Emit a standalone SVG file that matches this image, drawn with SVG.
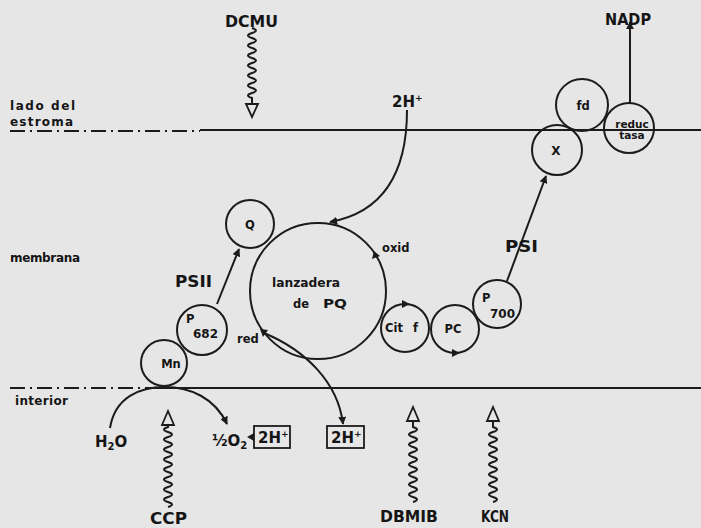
<svg xmlns="http://www.w3.org/2000/svg" width="701" height="528" viewBox="0 0 701 528">
<defs>
<style>
.ln{fill:none;stroke:#1b1b1b;stroke-width:2}
.dd{fill:none;stroke:#1b1b1b;stroke-width:2;stroke-dasharray:15 5 2 5}
.nd{fill:none;stroke:#1b1b1b;stroke-width:2}
.t{font-family:"DejaVu Sans","Liberation Sans",sans-serif;font-weight:bold;fill:#151515}
.s{font-size:12px}
.m{font-size:11.5px}
.b{font-size:15px}
.ah{fill:#1b1b1b}
.oh{fill:#e6e6e6;stroke:#1b1b1b;stroke-width:1.8}
</style>
<marker id="arr" viewBox="0 0 10 10" refX="9" refY="5" markerWidth="4" markerHeight="4" orient="auto" markerUnits="strokeWidth">
<path d="M0,0 L10,5 L0,10 Z" fill="#1b1b1b"/>
</marker>
</defs>
<rect x="0" y="0" width="701" height="528" fill="#e6e6e6"/>

<g id="membranes">
<path class="dd" d="M10,131 H200"/>
<path class="ln" d="M200,130 H701"/>
<path class="dd" d="M10,388 H148"/>
<path class="ln" d="M148,388 H701"/>
</g>

<g id="side-labels">
<text class="t s" x="10" y="110" textLength="65" lengthAdjust="spacing">lado del</text>
<text class="t s" x="10" y="126" textLength="63" lengthAdjust="spacing">estroma</text>
<text class="t s" x="10" y="262" textLength="70" lengthAdjust="spacing">membrana</text>
<text class="t s" x="15" y="405" textLength="53" lengthAdjust="spacing">interior</text>
</g>

<g id="connectors">
<path class="ln" d="M217,304 L239,249" marker-end="url(#arr)"/>
<path class="ln" d="M507,281 L546,176" marker-end="url(#arr)"/>
<path class="ln" d="M630,103 L630,22" marker-end="url(#arr)"/>
<path class="ln" d="M407,110 C407,170 385,212 330,222" marker-end="url(#arr)"/>
<path class="ln" d="M264,333 C305,350 338,382 343,424" marker-end="url(#arr)"/>
<path class="ln" d="M110,428 C115,397 140,387 165,387 C190,387 215,398 227,424" marker-end="url(#arr)"/>
<polygon class="ah" points="247,437 254,433 254,441"/>
<polygon class="ah" points="374,251 372,259 380,256"/>
<polygon class="ah" points="410,304 402,300 402,308"/>
<polygon class="ah" points="460,353 452,349 452,357"/>
<polygon class="ah" points="260,329 268,330 263,337"/>
</g>

<g id="inhibitors">
<path class="ln" d="M252,28 q8,2.5 0,5 q-8,2.5 0,5 q8,2.5 0,5 q-8,2.5 0,5 q8,2.5 0,5 q-8,2.5 0,5 q8,2.5 0,5 q-8,2.5 0,5 q8,2.5 0,5 q-8,2.5 0,5 q8,2.5 0,5 q-8,2.5 0,5 q8,2.5 0,5 q-8,2.5 0,5 L252,104"/>
<polygon class="oh" points="246,104 258,104 252,117"/>
<path class="ln" d="M168,507 q8,-2.5 0,-5 q-8,-2.5 0,-5 q8,-2.5 0,-5 q-8,-2.5 0,-5 q8,-2.5 0,-5 q-8,-2.5 0,-5 q8,-2.5 0,-5 q-8,-2.5 0,-5 q8,-2.5 0,-5 q-8,-2.5 0,-5 q8,-2.5 0,-5 q-8,-2.5 0,-5 q8,-2.5 0,-5 q-8,-2.5 0,-5 q8,-2.5 0,-5 q-8,-2.5 0,-5 L168,425"/>
<polygon class="oh" points="162,425 174,425 168,411"/>
<path class="ln" d="M413,502 q8,-2.5 0,-5 q-8,-2.5 0,-5 q8,-2.5 0,-5 q-8,-2.5 0,-5 q8,-2.5 0,-5 q-8,-2.5 0,-5 q8,-2.5 0,-5 q-8,-2.5 0,-5 q8,-2.5 0,-5 q-8,-2.5 0,-5 q8,-2.5 0,-5 q-8,-2.5 0,-5 q8,-2.5 0,-5 q-8,-2.5 0,-5 q8,-2.5 0,-5 L413,422"/>
<polygon class="oh" points="407,421 419,421 413,407"/>
<path class="ln" d="M493,502 q8,-2.5 0,-5 q-8,-2.5 0,-5 q8,-2.5 0,-5 q-8,-2.5 0,-5 q8,-2.5 0,-5 q-8,-2.5 0,-5 q8,-2.5 0,-5 q-8,-2.5 0,-5 q8,-2.5 0,-5 q-8,-2.5 0,-5 q8,-2.5 0,-5 q-8,-2.5 0,-5 q8,-2.5 0,-5 q-8,-2.5 0,-5 q8,-2.5 0,-5 L493,422"/>
<polygon class="oh" points="487,421 499,421 493,407"/>
<text class="t b" x="225" y="27" textLength="53" lengthAdjust="spacingAndGlyphs">DCMU</text>
<text class="t b" x="150" y="524" textLength="37" lengthAdjust="spacingAndGlyphs">CCP</text>
<text class="t b" x="380" y="522" textLength="58" lengthAdjust="spacingAndGlyphs">DBMIB</text>
<text class="t b" x="481" y="522" textLength="28" lengthAdjust="spacingAndGlyphs">KCN</text>
</g>

<g id="node-Q">
<circle class="nd" cx="250" cy="224" r="24"/>
<text class="t m" x="250" y="229" text-anchor="middle">Q</text>
</g>
<g id="node-PQ">
<circle class="nd" cx="318" cy="291" r="68"/>
<text class="t m" x="272" y="287" textLength="68" lengthAdjust="spacingAndGlyphs">lanzadera</text>
<text class="t m" x="293" y="308">de</text>
<text class="t m" x="323" y="308" textLength="24" lengthAdjust="spacingAndGlyphs">PQ</text>
<text class="t m" x="382" y="252">oxid</text>
<text class="t m" x="237" y="343">red</text>
</g>
<g id="node-P682">
<circle class="nd" cx="202" cy="330" r="25"/>
<text class="t m" x="186" y="323">P</text>
<text class="t m" x="193" y="338" textLength="25" lengthAdjust="spacingAndGlyphs">682</text>
</g>
<g id="node-Mn">
<circle class="nd" cx="164" cy="363" r="23"/>
<text class="t m" x="171" y="368" text-anchor="middle">Mn</text>
</g>
<g id="node-Citf">
<circle class="nd" cx="405" cy="328" r="24"/>
<text class="t m" x="385" y="332">Cit</text>
<text class="t m" x="413" y="332">f</text>
</g>
<g id="node-PC">
<circle class="nd" cx="455" cy="329" r="24"/>
<text class="t m" x="453" y="333" text-anchor="middle">PC</text>
</g>
<g id="node-P700">
<circle class="nd" cx="497" cy="304" r="24"/>
<text class="t m" x="482" y="302">P</text>
<text class="t m" x="490" y="318" textLength="25" lengthAdjust="spacingAndGlyphs">700</text>
</g>
<g id="node-X">
<circle class="nd" cx="557" cy="150" r="25"/>
<text class="t s" x="556" y="155" text-anchor="middle">X</text>
</g>
<g id="node-fd">
<circle class="nd" cx="582" cy="105" r="26"/>
<text class="t m" x="583" y="110" text-anchor="middle">fd</text>
</g>
<g id="node-reductasa">
<circle class="nd" cx="629" cy="128" r="25"/>
<text class="t" font-size="10.5" x="632" y="128" text-anchor="middle">reduc</text>
<text class="t" font-size="10.5" x="632" y="139" text-anchor="middle">tasa</text>
</g>

<g id="labels">
<text class="t b" x="605" y="25" textLength="46" lengthAdjust="spacingAndGlyphs">NADP</text>
<text class="t b" x="392" y="107">2H<tspan font-size="9" dy="-6">+</tspan></text>
<text class="t b" x="175" y="287" textLength="37" lengthAdjust="spacingAndGlyphs">PSII</text>
<text class="t b" x="505" y="252" textLength="33" lengthAdjust="spacingAndGlyphs">PSI</text>
<text class="t b" x="95" y="447">H<tspan font-size="10" dy="3">2</tspan><tspan dy="-3">O</tspan></text>
<text class="t b" x="212" y="446">½O<tspan font-size="10" dy="3">2</tspan></text>
</g>

<g id="proton-boxes">
<rect x="254" y="426" width="36" height="22" fill="none" stroke="#1b1b1b" stroke-width="1.8"/>
<text class="t b" x="258" y="443">2H<tspan font-size="9" dy="-6">+</tspan></text>
<rect x="327" y="426" width="37" height="22" fill="none" stroke="#1b1b1b" stroke-width="1.8"/>
<text class="t b" x="331" y="443">2H<tspan font-size="9" dy="-6">+</tspan></text>
</g>
</svg>
